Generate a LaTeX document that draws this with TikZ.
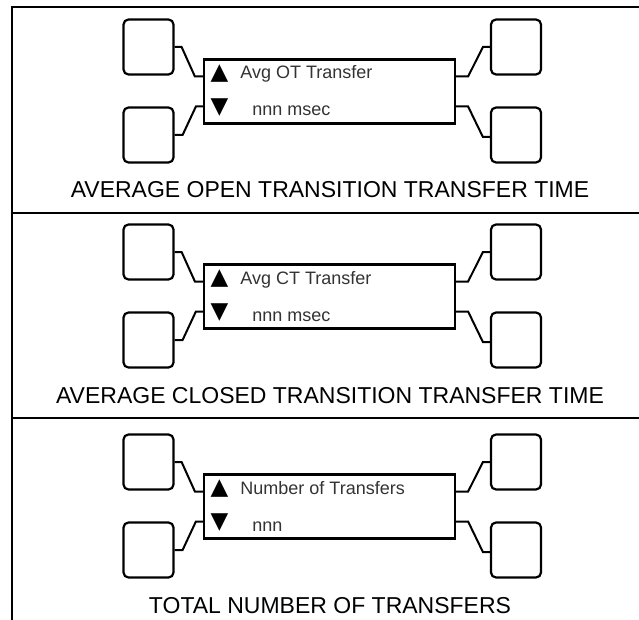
\documentclass[tikz,border=0pt]{standalone}
\usepackage{fontspec}
\setmainfont{Liberation Sans}
\newfontfamily\symfont{DejaVu Sans}
\usetikzlibrary{calc}

\begin{document}
\begin{tikzpicture}[x=1pt,y=-1pt,thick]
\tikzset{
key/.style = {draw,line width=2.2pt,rounded corners=5pt,minimum width=50pt,minimum height=55pt,inner sep=0pt},
display/.style = {draw,line width=2.2pt,minimum width=251pt,minimum height=64pt,inner sep=0pt},
wire/.style = {line width=2pt},
lcd/.style = {anchor=base west,inner sep=0pt,font=\fontsize{18}{18}\selectfont,text=black!80},
updown/.style = {inner sep=0pt,font=\symfont\fontsize{23}{23}\selectfont},
caption/.style = {anchor=base,inner sep=0pt,font=\fontsize{23}{23}\selectfont},
frame/.style = {line width=2pt},
divider/.style = {line width=1.4pt},
}
\useasboundingbox (0,0) rectangle (639,620);

% outer frame and dividers
\draw[frame] (12,620) -- (12,7) -- (640,7);
\draw[divider] (12,213) -- (640,213) (12,418) -- (640,418);

% one panel per screen
\foreach \s/\dy/\lineA/\lineB/\capt in {
  1/0/Avg OT Transfer/nnn msec/AVERAGE OPEN TRANSITION TRANSFER TIME,
  2/205/Avg CT Transfer/nnn msec/AVERAGE CLOSED TRANSITION TRANSFER TIME,
  3/415/Number of Transfers/nnn/TOTAL NUMBER OF TRANSFERS}{
\node[display] (disp\s) at (329.5,{91.5+\dy}) {};
\node[key] (kul\s) at (148.5,{47+\dy}) {};
\node[key] (kll\s) at (148.5,{135+\dy}) {};
\node[key] (kur\s) at (516,{47+\dy}) {};
\node[key] (klr\s) at (516,{135+\dy}) {};
\node[updown] (up\s) at (219.5,{74+\dy}) {▲};
\node[updown] (dn\s) at (219.5,{108+\dy}) {▼};
\node[lcd] (txa\s) at (240,{79+\dy}) {\lineA};
\node[lcd] (txb\s) at (252,{116+\dy}) {\lineB};
\node[caption] (cap\s) at (330,{198+\dy}) {\capt};
% connectors
\draw[wire] (kul\s.east) -- ++(7,0) -- ([xshift=-8pt,yshift=15pt]disp\s.west) -- ([yshift=15pt]disp\s.west);
\draw[wire] (kll\s.east) -- ++(8,0) -- ([xshift=-7pt,yshift=-15pt]disp\s.west) -- ([yshift=-15pt]disp\s.west);
\draw[wire] ([yshift=15pt]disp\s.east) -- ++(12,0) -- ([xshift=-7pt]kur\s.west) -- (kur\s.west);
\draw[wire] ([yshift=-15pt]disp\s.east) -- ++(12,0) -- ([xshift=-7pt,yshift=-2pt]klr\s.west) -- ([yshift=-2pt]klr\s.west);
}
\end{tikzpicture}
\end{document}
